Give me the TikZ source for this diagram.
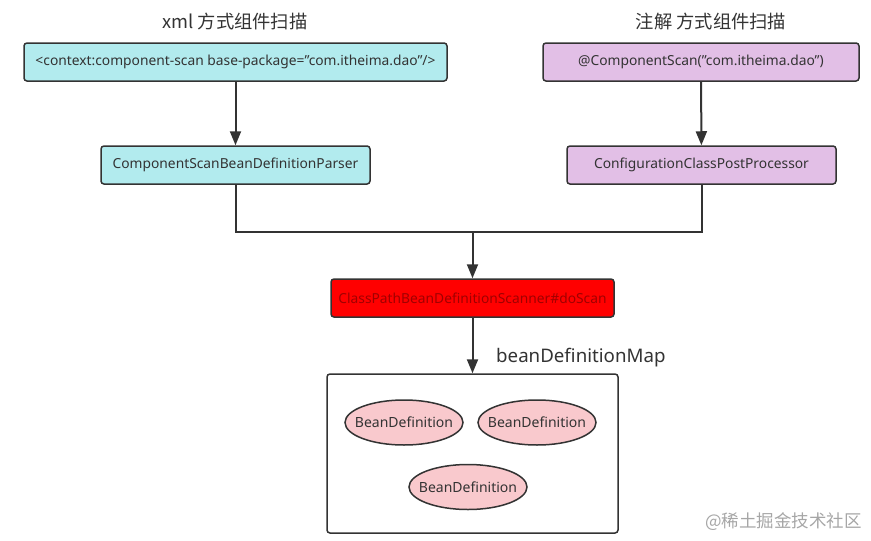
\documentclass[tikz,border=0pt]{standalone}
\usepackage{fontspec}
\setmainfont{Noto Sans}
\newfontfamily\cjk{Noto Sans CJK SC}
\usetikzlibrary{arrows.meta,shapes.geometric}
\definecolor{cyanbox}{HTML}{B2EBEE}
\definecolor{violetbox}{HTML}{E2BFE6}
\definecolor{redbox}{HTML}{FF0000}
\definecolor{redtext}{HTML}{A00000}
\definecolor{pinkell}{HTML}{F9C9CD}
\definecolor{linegray}{HTML}{333333}
\tikzset{
  boxst/.style={draw=linegray, line width=1.5pt, rounded corners=3pt, inner sep=0pt, font=\fontsize{13.8}{16}\selectfont, text=linegray},
  ellst/.style={ellipse, draw=linegray, line width=1.5pt, fill=pinkell, minimum width=118pt, minimum height=45pt, inner sep=0pt, font=\fontsize{14}{16}\selectfont, text=linegray},
  conn/.style={draw=linegray, line width=2pt},
  arr/.style={conn, -{Triangle[length=14pt,width=11pt]}},
  titlest/.style={font=\cjk\fontsize{18.3}{21}\selectfont, text=linegray},
}
\newcommand{\zw}[1]{\makebox[0pt]{#1}}
\begin{document}
\begin{tikzpicture}[x=1pt,y=-1pt]
\useasboundingbox (0,0) rectangle (871,541);
\node[titlest] (t1) at (235,22) {xml 方式组件扫描};
\node[titlest] (t2) at (711,22) {注解 方式组件扫描};
\node[boxst, fill=cyanbox, minimum width=423pt, minimum height=38pt] (b1) at (235.5,62) {\zw{<context:component-scan base-package="com.itheima.dao"/>}};
\node[boxst, fill=cyanbox, minimum width=269pt, minimum height=38pt] (b2) at (235.5,165) {ComponentScanBeanDefinitionParser};
\node[boxst, fill=violetbox, minimum width=316pt, minimum height=38pt] (b3) at (701,62) {@ComponentScan("com.itheima.dao")};
\node[boxst, fill=violetbox, minimum width=269pt, minimum height=38pt] (b4) at (701.5,165) {ConfigurationClassPostProcessor};
\node[boxst, fill=redbox, text=redtext, minimum width=283pt, minimum height=38pt] (r) at (472.5,298) {ClassPathBeanDefinitionScanner\#doScan};
\node[draw=linegray, line width=1.5pt, rounded corners=3pt, minimum width=291pt, minimum height=159pt, inner sep=0pt] (m) at (472.5,453.5) {};
\node[font=\fontsize{18.7}{21}\selectfont, text=linegray, anchor=west, inner sep=0pt] (ml) at (496,358) {beanDefinitionMap};
\node[ellst] (e1) at (404,422.5) {\zw{BeanDefinition}};
\node[ellst] (e2) at (537,422.5) {\zw{BeanDefinition}};
\node[ellst] (e3) at (468,487) {\zw{BeanDefinition}};
\node[font=\cjk\fontsize{17.5}{20}\selectfont, text=black!35, anchor=west, inner sep=0pt] (wm) at (705,522) {@稀土掘金技术社区};
\coordinate (j) at (472.5,232);
\draw[arr] (b1) -- (b2);
\draw[arr] (b3) -- (b4);
\draw[conn] (b2.south) |- (j);
\draw[conn] (b4.south) |- (j);
\draw[arr] (j) -- (r.north);
\draw[arr] (r) -- (m.north);
\end{tikzpicture}
\end{document}
